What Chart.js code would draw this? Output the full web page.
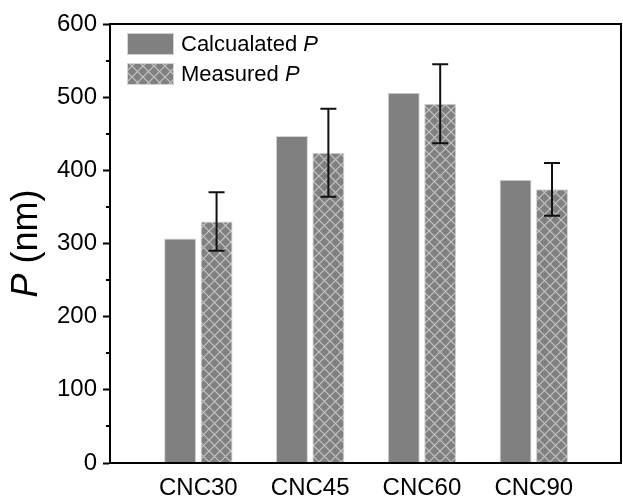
<!DOCTYPE html>
<html>
<head>
<meta charset="utf-8">
<script src="https://cdn.jsdelivr.net/npm/chart.js@4.4.1/dist/chart.umd.min.js"></script>
<style>
  html, body { margin: 0; padding: 0; background: #fff; }
  #wrap { width: 623px; height: 499px; position: relative; }
</style>
</head>
<body>
<div id="wrap"><canvas id="chart"></canvas></div>
<script>
// ── Data ─────────────────────────────────────────────────────
const categories   = ['CNC30', 'CNC45', 'CNC60', 'CNC90'];
const calculatedP  = [307, 447, 506, 387];
const measuredP    = [330, 424, 491, 374];
const measuredErr  = [40, 60, 54, 36];
const yTicks       = [0, 100, 200, 300, 400, 500, 600];

const FONT = "'Liberation Sans', Arial, sans-serif";
const BAR_GRAY = '#808080';

// crosshatch fill for the measured series
function makeHatch() {
  const p = 11;
  const c = document.createElement('canvas');
  c.width = p; c.height = p;
  const g = c.getContext('2d');
  g.fillStyle = BAR_GRAY;
  g.fillRect(0, 0, p, p);
  g.strokeStyle = '#c4c4c4';
  g.lineWidth = 1.2;
  g.beginPath();
  g.moveTo(0, 0); g.lineTo(p, p);
  g.moveTo(p, 0); g.lineTo(0, p);
  g.stroke();
  return g.createPattern(c, 'repeat');
}
const hatch = makeHatch();

// ── Plugins ──────────────────────────────────────────────────
const framePlugin = {
  id: 'frame',
  afterDraw(chart) {
    const { ctx, chartArea: a, scales: { y } } = chart;
    ctx.save();
    ctx.strokeStyle = '#000';
    ctx.lineWidth = 2;
    ctx.strokeRect(a.left, a.top, a.right - a.left, a.bottom - a.top);
    // minor ticks
    ctx.beginPath();
    for (let v = 50; v < 600; v += 100) {
      const py = Math.round(y.getPixelForValue(v));
      ctx.moveTo(a.left - 4, py);
      ctx.lineTo(a.left, py);
    }
    ctx.stroke();
    ctx.restore();
  }
};

const errorBarPlugin = {
  id: 'errbars',
  afterDatasetsDraw(chart) {
    const { ctx, scales: { y } } = chart;
    const meta = chart.getDatasetMeta(1);
    ctx.save();
    ctx.strokeStyle = '#111';
    ctx.lineWidth = 2;
    meta.data.forEach((bar, i) => {
      const top = y.getPixelForValue(measuredP[i] + measuredErr[i]);
      const bot = y.getPixelForValue(measuredP[i] - measuredErr[i]);
      const x = bar.x, cap = 8;
      ctx.beginPath();
      ctx.moveTo(x, top); ctx.lineTo(x, bot);
      ctx.moveTo(x - cap, top); ctx.lineTo(x + cap, top);
      ctx.moveTo(x - cap, bot); ctx.lineTo(x + cap, bot);
      ctx.stroke();
    });
    ctx.restore();
  }
};

const legendPlugin = {
  id: 'customLegend',
  afterDraw(chart) {
    const { ctx, chartArea: a } = chart;
    const items = [
      { fill: BAR_GRAY, text: 'Calcualated ' },
      { fill: hatch,    text: 'Measured ' }
    ];
    ctx.save();
    items.forEach((it, i) => {
      const x = a.left + 17, y = a.top + 9 + i * 30;
      ctx.fillStyle = it.fill;
      ctx.fillRect(x, y, 47, 22);
      ctx.strokeStyle = '#d4d4d4';
      ctx.lineWidth = 1;
      ctx.strokeRect(x + 0.5, y + 0.5, 46, 21);
      ctx.fillStyle = '#000';
      ctx.textBaseline = 'middle';
      ctx.font = `22px ${FONT}`;
      ctx.fillText(it.text, x + 54, y + 12);
      const w = ctx.measureText(it.text).width;
      ctx.font = `italic 22px ${FONT}`;
      ctx.fillText('P', x + 54 + w, y + 12);
    });
    ctx.restore();
  }
};

const yTitlePlugin = {
  id: 'yTitle',
  afterDraw(chart) {
    const { ctx, chartArea: a } = chart;
    ctx.save();
    ctx.translate(27, (a.top + a.bottom) / 2);
    ctx.rotate(-Math.PI / 2);
    ctx.fillStyle = '#000';
    ctx.textBaseline = 'middle';
    ctx.font = `italic 36px ${FONT}`;
    const wP = ctx.measureText('P').width;
    ctx.font = `36px ${FONT}`;
    const wRest = ctx.measureText(' (nm)').width;
    const x0 = -(wP + wRest) / 2;
    ctx.font = `italic 36px ${FONT}`;
    ctx.fillText('P', x0, 0);
    ctx.font = `36px ${FONT}`;
    ctx.fillText(' (nm)', x0 + wP, 0);
    ctx.restore();
  }
};

// ── Chart ────────────────────────────────────────────────────
new Chart(document.getElementById('chart'), {
  type: 'bar',
  data: {
    datasets: [
      {
        label: 'Calcualated P',
        data: calculatedP.map((v, i) => ({ x: i, y: v })),
        backgroundColor: BAR_GRAY,
        borderColor: '#d4d4d4',
        borderWidth: 1,
      },
      {
        label: 'Measured P',
        data: measuredP.map((v, i) => ({ x: i, y: v })),
        backgroundColor: hatch,
        borderColor: '#d4d4d4',
        borderWidth: 1,
      }
    ]
  },
  options: {
    responsive: true,
    maintainAspectRatio: false,
    animation: false,
    categoryPercentage: 0.652,
    barPercentage: 0.877,
    layout: { padding: { top: 24, right: 2, left: 0, bottom: 0 } },
    plugins: { legend: { display: false }, tooltip: { enabled: false } },
    scales: {
      x: {
        type: 'linear',
        offset: false,
        min: -0.79,
        max: 3.78,
        afterFit: s => { s.height = 36; },
        grid: { display: false, offset: false },
        border: { display: true, color: '#000', width: 2 },
        ticks: {
          stepSize: 1,
          includeBounds: false,
          autoSkip: false,
          maxRotation: 0,
          padding: 3,
          color: '#000',
          font: { family: FONT, size: 24 },
          callback: v => categories[v] ?? '',
        },
      },
      y: {
        min: 0,
        max: 600,
        afterFit: s => { s.width = 110; },
        afterBuildTicks: s => { s.ticks = yTicks.map(v => ({ value: v })); },
        grid: { drawOnChartArea: false, tickLength: 7, tickWidth: 2, tickColor: '#000' },
        border: { display: true, color: '#000', width: 2 },
        ticks: {
          padding: 6,
          color: '#000',
          font: { family: FONT, size: 24 },
        },
      }
    }
  },
  plugins: [framePlugin, errorBarPlugin, legendPlugin, yTitlePlugin]
});
</script>
</body>
</html>
